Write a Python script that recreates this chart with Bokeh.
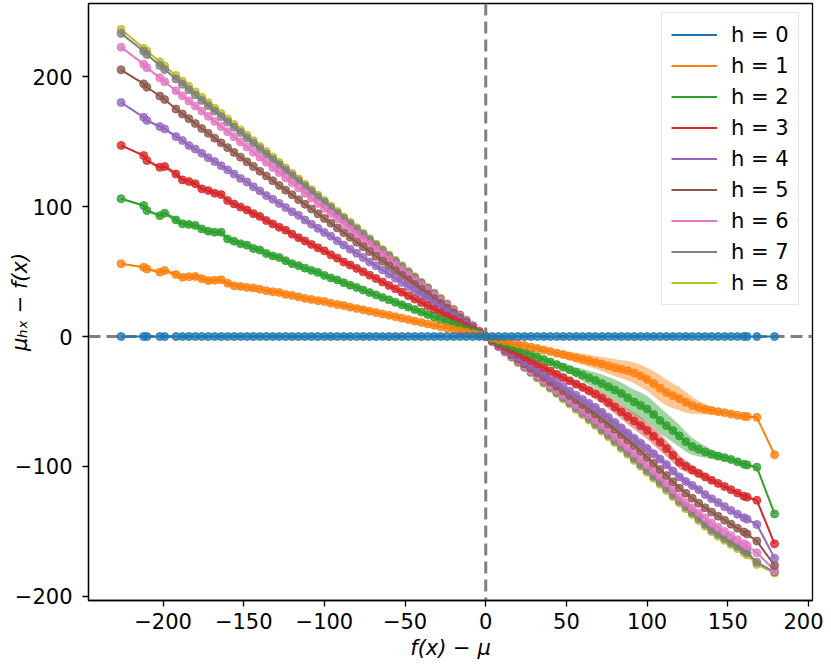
from bokeh.plotting import figure
from bokeh.models import Range1d, Span, Legend, LegendItem, FixedTicker
from bokeh.embed import file_html
from bokeh.resources import INLINE

# ---------------- data ----------------
fx_minus_mu = [
    -226, -212, -210, -202, -199,
    -192, -188, -184, -180, -176, -172, -168, -164, -160, -156,
    -152, -148, -144, -140, -136, -132, -128, -124, -120, -116,
    -112, -108, -104, -100, -96, -92, -88, -84, -80, -76,
    -72, -68, -64, -60, -56, -52, -48, -44, -40, -36,
    -32, -28, -24, -20, -16, -12, -8, -4, 0,
    4, 8, 12, 16, 20, 24, 28, 32, 36, 40,
    44, 48, 52, 56, 60, 64, 68, 72, 76, 80,
    84, 88, 92, 96, 100, 104, 108, 112, 116, 120,
    124, 128, 132, 136, 140, 144, 148, 152, 156, 160,
    162, 168, 179]

mu_h0 = [
    0.0, 0.0, 0.0, 0.0, 0.0,
    0.0, 0.0, 0.0, 0.0, 0.0, 0.0, 0.0, 0.0, 0.0, 0.0,
    0.0, 0.0, 0.0, 0.0, 0.0, 0.0, 0.0, 0.0, 0.0, 0.0,
    0.0, 0.0, 0.0, 0.0, 0.0, 0.0, 0.0, 0.0, 0.0, 0.0,
    0.0, 0.0, 0.0, 0.0, 0.0, 0.0, 0.0, 0.0, 0.0, 0.0,
    0.0, 0.0, 0.0, 0.0, 0.0, 0.0, 0.0, 0.0, 0.0,
    0.0, 0.0, 0.0, 0.0, 0.0, 0.0, 0.0, 0.0, 0.0, 0.0,
    0.0, 0.0, 0.0, 0.0, 0.0, 0.0, 0.0, 0.0, 0.0, 0.0,
    0.0, 0.0, 0.0, 0.0, 0.0, 0.0, 0.0, 0.0, 0.0, 0.0,
    0.0, 0.0, 0.0, 0.0, 0.0, 0.0, 0.0, 0.0, 0.0, 0.0,
    0.0, 0.0, 0.0]

mu_h1 = [
    56.0, 53.3, 52.0, 49.5, 50.8,
    47.7, 45.6, 46.0, 46.2, 44.5, 43.0, 43.3, 43.6, 41.0, 39.0,
    38.5, 37.8, 37.4, 36.3, 35.2, 34.5, 33.9, 32.4, 31.6, 30.5,
    29.3, 28.5, 27.6, 26.9, 25.6, 24.6, 23.8, 22.6, 21.5, 20.5,
    19.5, 18.4, 17.4, 16.3, 15.2, 14.1, 13.0, 11.9, 10.8, 9.7,
    8.6, 7.5, 6.5, 5.4, 4.3, 3.2, 2.2, 1.1, 0.0,
    -1.2, -2.3, -3.5, -4.7, -5.8, -7.0, -8.1, -9.3, -10.4, -11.6,
    -12.8, -13.9, -15.1, -16.3, -17.5, -18.7, -19.9, -21.2, -22.6, -24.0,
    -25.2, -26.4, -28.0, -30.3, -33.0, -36.2, -39.8, -43.0, -45.6, -47.8,
    -50.6, -53.0, -54.6, -56.0, -57.0, -57.8, -58.6, -59.6, -60.6, -61.4,
    -61.6, -62.2, -91.0]

mu_h2 = [
    106.0, 100.8, 96.9, 93.0, 94.9,
    89.7, 86.7, 86.2, 85.5, 82.8, 81.0, 80.2, 80.2, 75.1, 73.3,
    71.4, 70.3, 67.7, 66.5, 63.9, 62.0, 60.8, 58.3, 56.0, 54.5,
    52.6, 50.8, 49.3, 47.0, 45.1, 43.5, 41.4, 39.5, 37.8, 35.7,
    33.8, 32.0, 30.1, 28.2, 26.3, 24.4, 22.6, 20.7, 18.8, 16.9,
    15.0, 13.2, 11.3, 9.4, 7.5, 5.6, 3.8, 1.9, 0.0,
    -2.0, -3.9, -5.9, -7.8, -9.8, -11.8, -13.7, -15.7, -17.7, -19.6,
    -21.6, -23.6, -25.6, -27.6, -29.7, -31.8, -33.9, -36.2, -38.6, -41.1,
    -43.8, -47.2, -50.4, -53.0, -55.8, -60.0, -64.6, -68.6, -72.4, -76.5,
    -81.0, -84.6, -86.8, -88.8, -90.6, -92.0, -93.2, -94.6, -96.4, -98.2,
    -98.8, -100.5, -136.5]

mu_h3 = [
    147.0, 139.2, 135.4, 130.2, 130.8,
    125.0, 120.5, 119.2, 117.5, 113.6, 112.3, 110.2, 109.2, 104.6, 102.0,
    99.6, 97.3, 94.5, 92.4, 89.2, 86.6, 84.0, 81.8, 78.7, 76.0,
    73.4, 70.8, 68.2, 65.9, 62.9, 60.3, 57.3, 55.0, 52.4, 49.8,
    47.2, 44.6, 41.9, 39.3, 36.7, 34.1, 31.4, 28.8, 26.2, 23.6,
    21.0, 18.3, 15.7, 13.1, 10.5, 7.9, 5.2, 2.6, 0.0,
    -2.6, -5.3, -7.9, -10.5, -13.2, -15.8, -18.5, -21.2, -23.9, -26.5,
    -29.1, -31.6, -34.1, -36.6, -39.1, -41.7, -44.3, -47.4, -50.8, -54.3,
    -57.9, -61.5, -65.0, -68.6, -72.3, -76.8, -81.3, -86.2, -91.4, -96.7,
    -99.8, -102.7, -105.3, -108.0, -110.6, -113.0, -115.4, -117.9, -120.4, -122.8,
    -123.6, -126.0, -159.5]

mu_h4 = [
    180.0, 168.7, 166.2, 161.5, 159.7,
    153.8, 150.8, 146.9, 144.2, 141.0, 137.6, 134.6, 131.4, 128.2, 125.0,
    121.6, 118.9, 115.2, 112.0, 108.4, 105.6, 102.4, 99.2, 96.0, 93.2,
    89.6, 86.4, 83.2, 80.0, 77.2, 73.6, 70.4, 67.2, 64.0, 60.8,
    57.3, 54.4, 51.2, 48.0, 44.8, 41.6, 38.4, 35.2, 32.0, 28.8,
    25.6, 22.4, 19.2, 16.0, 12.8, 9.6, 6.4, 3.2, 0.0,
    -3.2, -6.4, -9.6, -12.8, -16.0, -19.2, -22.4, -25.6, -28.9, -32.1,
    -35.3, -38.5, -41.9, -45.2, -48.4, -51.5, -54.6, -58.3, -62.2, -66.1,
    -70.3, -74.4, -78.4, -82.2, -86.2, -90.2, -94.3, -98.6, -103.4, -108.0,
    -111.5, -114.6, -117.8, -121.6, -124.8, -127.8, -130.9, -133.8, -136.7, -139.4,
    -140.6, -144.6, -170.5]

mu_h5 = [
    205.2, 194.4, 191.8, 185.0, 182.3,
    175.0, 171.2, 167.6, 163.8, 160.0, 156.3, 152.6, 149.0, 145.3, 141.6,
    138.0, 134.4, 130.8, 127.1, 123.5, 119.9, 116.2, 112.6, 109.0, 105.3,
    101.7, 98.1, 94.4, 90.8, 87.2, 83.5, 79.9, 76.3, 72.6, 69.0,
    65.4, 61.7, 58.1, 54.5, 50.8, 47.2, 43.6, 40.0, 36.3, 32.7,
    29.1, 25.4, 21.8, 18.2, 14.5, 10.9, 7.3, 3.6, 0.0,
    -3.5, -7.0, -10.5, -14.0, -17.5, -21.0, -24.4, -27.8, -31.3, -34.8,
    -38.3, -41.8, -45.3, -48.8, -52.4, -56.0, -59.7, -63.5, -67.4, -71.4,
    -75.5, -79.6, -83.9, -88.3, -92.9, -97.6, -102.3, -107.0, -111.8, -116.6,
    -120.6, -124.4, -128.2, -131.8, -135.1, -138.2, -141.3, -144.4, -147.5, -150.4,
    -152.0, -157.4, -176.2]

mu_h6 = [
    222.6, 209.5, 206.8, 199.0, 196.0,
    189.1, 185.2, 181.2, 177.3, 173.4, 169.4, 165.5, 161.5, 157.6, 153.7,
    149.7, 145.8, 141.8, 137.9, 134.0, 130.0, 126.1, 122.1, 118.2, 114.3,
    110.3, 106.4, 102.4, 98.5, 94.6, 90.6, 86.7, 82.7, 78.8, 74.9,
    70.9, 67.0, 63.0, 59.1, 55.2, 51.2, 47.3, 43.3, 39.4, 35.5,
    31.5, 27.6, 23.6, 19.7, 15.8, 11.8, 7.9, 3.9, 0.0,
    -3.8, -7.5, -11.3, -15.0, -18.8, -22.5, -26.3, -30.0, -33.8, -37.5,
    -41.3, -45.1, -48.9, -52.7, -56.4, -60.2, -64.1, -68.3, -72.6, -76.9,
    -81.3, -85.6, -90.0, -94.4, -98.8, -103.4, -108.0, -112.9, -118.0, -123.8,
    -127.8, -131.8, -135.7, -139.6, -143.4, -146.8, -150.0, -153.2, -156.4, -159.4,
    -161.0, -166.4, -180.0]

mu_h7 = [
    233.2, 219.5, 216.9, 208.5, 205.4,
    198.1, 194.0, 189.9, 185.8, 181.6, 177.5, 173.4, 169.2, 165.1, 161.0,
    156.9, 152.7, 148.6, 144.5, 140.4, 136.2, 132.1, 128.0, 123.8, 119.7,
    115.6, 111.5, 107.3, 103.2, 99.1, 94.9, 90.8, 86.7, 82.6, 78.4,
    74.3, 70.2, 66.0, 61.9, 57.8, 53.7, 49.5, 45.4, 41.3, 37.2,
    33.0, 28.9, 24.8, 20.6, 16.5, 12.4, 8.3, 4.1, 0.0,
    -3.9, -7.8, -11.8, -15.7, -19.6, -23.5, -27.4, -31.3, -35.2, -39.1,
    -43.0, -47.0, -50.9, -54.9, -58.9, -63.0, -67.2, -71.5, -75.9, -80.3,
    -84.8, -89.3, -93.9, -98.5, -103.0, -107.6, -112.2, -116.8, -121.6, -126.6,
    -131.0, -135.5, -140.0, -144.4, -148.8, -152.0, -155.2, -158.4, -161.5, -164.4,
    -166.2, -173.6, -181.2]

mu_h8 = [
    236.4, 221.8, 219.7, 211.3, 208.2,
    200.8, 196.6, 192.5, 188.3, 184.1, 179.9, 175.7, 171.5, 167.4, 163.2,
    159.0, 154.8, 150.6, 146.4, 142.3, 138.1, 133.9, 129.7, 125.5, 121.3,
    117.2, 113.0, 108.8, 104.6, 100.4, 96.2, 92.0, 87.9, 83.7, 79.5,
    75.3, 71.1, 66.9, 62.8, 58.6, 54.4, 50.2, 46.0, 41.8, 37.7,
    33.5, 29.3, 25.1, 20.9, 16.7, 12.6, 8.4, 4.2, 0.0,
    -4.0, -8.0, -12.0, -16.0, -20.0, -23.9, -27.9, -31.9, -35.9, -39.9,
    -43.9, -48.0, -52.0, -56.1, -60.2, -64.3, -68.5, -72.8, -77.2, -81.6,
    -86.1, -90.7, -95.3, -99.9, -104.5, -109.1, -113.7, -118.4, -123.2, -128.1,
    -132.6, -137.0, -141.5, -146.0, -150.3, -153.6, -156.8, -160.0, -163.2, -166.2,
    -168.0, -175.4, -182.0]

# half-widths of the shaded spread bands
band_h1 = [
    0.5, 0.8, 1.0, 1.2, 1.5,
    2.0, 2.0, 2.0, 2.0, 2.0, 2.0, 2.0, 2.0, 2.0, 2.0,
    2.0, 2.0, 2.0, 2.0, 2.0, 2.0, 2.0, 2.0, 2.0, 2.0,
    1.8, 1.8, 1.8, 1.8, 1.8, 1.8, 1.8, 1.8, 1.8, 1.8,
    1.5, 1.5, 1.5, 1.5, 1.5, 1.5, 1.5, 1.5, 1.5, 1.5,
    1.2, 1.1, 1.0, 0.9, 0.8, 0.6, 0.5, 0.3, 0.0,
    0.4, 0.6, 0.8, 1.0, 1.2, 1.4, 1.6, 1.8, 2.0, 2.3,
    2.6, 3.0, 3.4, 3.8, 4.2, 4.6, 5.0, 5.5, 6.0, 6.5,
    7.0, 7.5, 8.0, 8.5, 9.0, 9.5, 10.0, 10.0, 9.5, 9.0,
    8.0, 6.5, 5.0, 4.0, 3.0, 2.5, 2.0, 1.5, 1.2, 1.0,
    0.8, 0.5, 0.0]

band_h2 = [
    0.5, 0.8, 1.0, 1.3, 1.5,
    2.2, 2.2, 2.2, 2.2, 2.2, 2.2, 2.2, 2.2, 2.2, 2.2,
    2.2, 2.2, 2.2, 2.2, 2.2, 2.2, 2.2, 2.2, 2.2, 2.2,
    2.0, 2.0, 2.0, 2.0, 2.0, 2.0, 2.0, 2.0, 2.0, 2.0,
    1.8, 1.8, 1.8, 1.8, 1.8, 1.8, 1.8, 1.8, 1.8, 1.8,
    1.5, 1.3, 1.2, 1.0, 0.8, 0.6, 0.4, 0.2, 0.0,
    0.3, 0.5, 0.7, 0.9, 1.1, 1.3, 1.5, 1.7, 1.9, 2.1,
    2.4, 2.8, 3.3, 4.0, 4.8, 5.5, 6.2, 7.0, 7.5, 8.0,
    8.5, 9.0, 9.5, 10.0, 10.0, 10.0, 10.0, 9.5, 9.0, 8.5,
    7.5, 6.5, 5.5, 4.5, 3.5, 3.0, 2.5, 2.0, 1.8, 1.5,
    0.8, 0.5, 0.0]

band_h3 = [
    0.5, 0.8, 1.0, 1.3, 1.5,
    2.0, 2.0, 2.0, 2.0, 2.0, 2.0, 2.0, 2.0, 2.0, 2.0,
    2.0, 2.0, 2.0, 2.0, 2.0, 2.0, 2.0, 2.0, 2.0, 2.0,
    1.8, 1.8, 1.8, 1.8, 1.8, 1.8, 1.8, 1.8, 1.8, 1.8,
    1.5, 1.5, 1.5, 1.5, 1.5, 1.5, 1.5, 1.5, 1.5, 1.5,
    1.3, 1.2, 1.0, 0.9, 0.7, 0.5, 0.4, 0.2, 0.0,
    0.3, 0.5, 0.7, 0.9, 1.0, 1.2, 1.3, 1.5, 1.6, 1.8,
    2.0, 2.2, 2.5, 2.8, 3.2, 3.6, 4.0, 4.4, 4.8, 5.2,
    5.6, 6.0, 6.3, 6.5, 6.6, 6.6, 6.5, 6.2, 5.8, 5.2,
    4.5, 3.8, 3.2, 2.7, 2.3, 2.0, 1.8, 1.6, 1.5, 1.4,
    1.0, 0.6, 0.0]

band_h4 = [
    0.4, 0.6, 0.8, 1.0, 1.0,
    1.2, 1.2, 1.2, 1.2, 1.2, 1.2, 1.2, 1.2, 1.2, 1.2,
    1.2, 1.2, 1.2, 1.2, 1.2, 1.2, 1.2, 1.2, 1.2, 1.2,
    1.2, 1.2, 1.2, 1.2, 1.2, 1.2, 1.2, 1.2, 1.2, 1.2,
    1.2, 1.2, 1.2, 1.2, 1.2, 1.2, 1.2, 1.2, 1.2, 1.2,
    1.0, 0.9, 0.8, 0.7, 0.5, 0.4, 0.3, 0.1, 0.0,
    0.2, 0.3, 0.4, 0.5, 0.6, 0.7, 0.8, 0.9, 1.0, 1.1,
    1.2, 1.4, 1.6, 1.8, 2.0, 2.2, 2.4, 2.6, 2.8, 3.0,
    3.2, 3.4, 3.5, 3.6, 3.6, 3.5, 3.4, 3.2, 3.0, 2.8,
    2.5, 2.2, 2.0, 1.8, 1.6, 1.4, 1.3, 1.2, 1.1, 1.0,
    0.8, 0.5, 0.0]

series_labels = ["h = 0", "h = 1", "h = 2", "h = 3", "h = 4",
                 "h = 5", "h = 6", "h = 7", "h = 8"]
series_values = [mu_h0, mu_h1, mu_h2, mu_h3, mu_h4, mu_h5, mu_h6, mu_h7, mu_h8]
series_bands = [None, band_h1, band_h2, band_h3, band_h4, None, None, None, None]
colors = ["#1f77b4", "#ff7f0e", "#2ca02c", "#d62728", "#9467bd",
          "#8c564b", "#e377c2", "#7f7f7f", "#bcbd22"]

x_ticks = [-200, -150, -100, -50, 0, 50, 100, 150, 200]
x_tick_labels = ["\u2212200", "\u2212150", "\u2212100", "\u221250", "0", "50", "100", "150", "200"]
y_ticks = [-200, -100, 0, 100, 200]
y_tick_labels = ["\u2212200", "\u2212100", "0", "100", "200"]

for arr in series_values + [b for b in series_bands if b is not None]:
    assert len(arr) == len(fx_minus_mu), len(arr)

# ---------------- figure ----------------
FONT = "DejaVu Sans"
FS = "21px"
p = figure(frame_width=724, frame_height=597,
           x_range=Range1d(-246.2, 202.5), y_range=Range1d(-203.1, 256.2),
           output_backend="svg", toolbar_location=None,
           min_border_left=88, min_border_right=11,
           min_border_top=3, min_border_bottom=60)
p.background_fill_color = "white"
p.border_fill_color = "white"
p.outline_line_color = "black"
p.outline_line_width = 1.3
p.grid.visible = False

for ax, ticks, labels in ((p.xaxis, x_ticks, x_tick_labels), (p.yaxis, y_ticks, y_tick_labels)):
    ax.ticker = FixedTicker(ticks=ticks)
    ax.major_label_overrides = {t: l for t, l in zip(ticks, labels)}
    ax.major_label_text_font = FONT
    ax.major_label_text_font_size = FS
    ax.major_label_text_color = "black"
    ax.axis_line_color = "black"
    ax.axis_line_width = 1.3
    ax.major_tick_line_color = "black"
    ax.major_tick_line_width = 1.3
    ax.major_tick_out = 6
    ax.major_tick_in = 0
    ax.minor_tick_line_color = None
    ax.axis_label_text_font = FONT
    ax.axis_label_text_font_size = FS
    ax.axis_label_text_font_style = "italic"
    ax.axis_label_text_color = "black"

p.xaxis.major_label_standoff = 6
p.xaxis.axis_label_standoff = 4
p.yaxis.major_label_standoff = 10
p.yaxis.axis_label_standoff = -20

p.xaxis.axis_label = "f(x) \u2212 \u03bc"
p.yaxis.axis_label = "\u03bc\u2095\u2093 \u2212 f(x)"

# dashed reference lines (behind data)
p.add_layout(Span(location=0, dimension="height", line_color="#808080",
                  line_width=3, line_dash="12 6", level="underlay"))
p.add_layout(Span(location=0, dimension="width", line_color="#808080",
                  line_width=3, line_dash="12 6", level="underlay"))

line_renderers = {}
for h in reversed(range(len(series_values))):
    ys = series_values[h]
    c = colors[h]
    band = series_bands[h]
    if band is not None:
        lo = [y - b for y, b in zip(ys, band)]
        hi = [y + b for y, b in zip(ys, band)]
        p.varea(x=fx_minus_mu, y1=lo, y2=hi, fill_color=c, fill_alpha=0.45)
    r = p.line(fx_minus_mu, ys, line_color=c, line_width=2)
    p.scatter(fx_minus_mu, ys, size=8, marker="circle", fill_color=c,
              line_color=c, fill_alpha=0.8, line_alpha=0.8, line_width=1)
    line_renderers[h] = r

items = [LegendItem(label=series_labels[h], renderers=[line_renderers[h]])
         for h in range(len(series_values))]
legend = Legend(items=items, location=(573, 295))
legend.label_text_font = FONT
legend.label_text_font_size = FS
legend.label_text_color = "black"
legend.glyph_width = 46
legend.glyph_height = 25
legend.label_height = 25
legend.label_standoff = 14
legend.spacing = 6
legend.padding = 9
legend.margin = 0
legend.border_line_color = "#cccccc"
legend.border_line_width = 1.5
legend.background_fill_color = "white"
legend.background_fill_alpha = 0.85
p.add_layout(legend)

open("out.html", "w").write(file_html(p, INLINE))
